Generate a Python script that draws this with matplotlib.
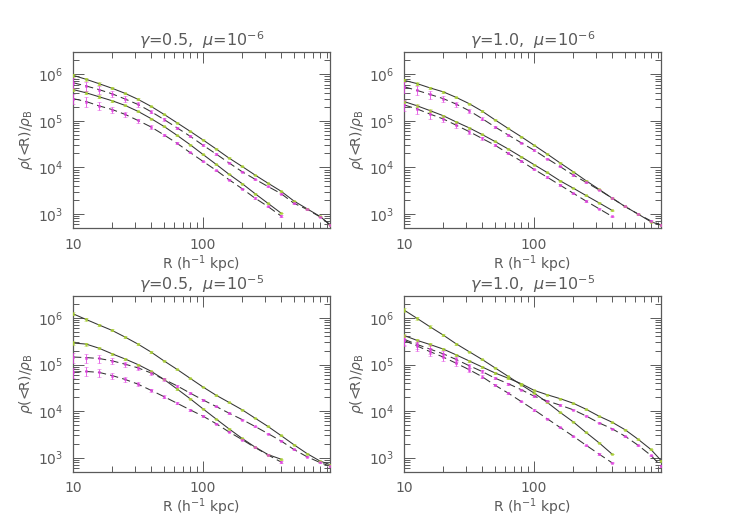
"""Mean enclosed density profiles, four parameter choices (2x2 log-log panels)."""

import matplotlib

matplotlib.use("Agg")
import matplotlib.pyplot as plt  # noqa: E402
from matplotlib.ticker import LogLocator, NullFormatter  # noqa: E402

# radial bins (h^-1 kpc); short profiles stop at ~400
R_FULL = [10, 12.6, 15.8, 20, 25.1, 31.6, 39.8, 50.1, 63.1, 79.4, 100,
          126, 158, 200, 251, 316, 398, 501, 631, 794, 950]
R_SHORT = R_FULL[:17]

# gamma=0.5, mu=1e-6
TL_OUT_SOLID = [9.5e5, 7.8e5, 6.3e5, 5.0e5, 3.9e5, 2.9e5, 2.05e5, 1.38e5, 9.1e4, 6.0e4, 3.9e4,
                2.5e4, 1.6e4, 1.05e4, 6.9e3, 4.6e3, 3.1e3, 1.9e3, 1.3e3, 8.9e2, 5.9e2]
TL_OUT_DASH = [6.6e5, 5.6e5, 4.7e5, 3.8e5, 2.95e5, 2.25e5, 1.58e5, 1.07e5, 7.1e4, 4.7e4, 3.0e4,
               1.95e4, 1.26e4, 8.1e3, 5.6e3, 3.9e3, 2.75e3, 1.7e3, 1.26e3, 8.7e2, 5.9e2]
TL_IN_SOLID = [4.7e5, 4.0e5, 3.3e5, 2.7e5, 2.15e5, 1.6e5, 1.12e5, 7.6e4, 4.9e4, 3.1e4, 1.9e4,
               1.17e4, 7.2e3, 4.5e3, 2.75e3, 1.7e3, 1.05e3]
TL_IN_DASH = [3.0e5, 2.6e5, 2.1e5, 1.75e5, 1.38e5, 1.02e5, 7.4e4, 5.0e4, 3.3e4, 2.1e4, 1.35e4,
              8.7e3, 5.5e3, 3.5e3, 2.2e3, 1.45e3, 9.1e2]

# gamma=1.0, mu=1e-6
TR_OUT_SOLID = [7.4e5, 6.3e5, 5.1e5, 4.2e5, 3.2e5, 2.35e5, 1.62e5, 1.05e5, 6.9e4, 4.6e4, 3.0e4,
                1.95e4, 1.26e4, 8.1e3, 5.2e3, 3.4e3, 2.2e3, 1.45e3, 1.0e3, 6.8e2, 5.8e2]
TR_OUT_DASH = [5.4e5, 4.5e5, 3.7e5, 3.0e5, 2.3e5, 1.66e5, 1.12e5, 7.4e4, 5.0e4, 3.4e4, 2.35e4,
               1.55e4, 1.05e4, 6.9e3, 4.8e3, 3.3e3, 2.2e3, 1.45e3, 1.0e3, 7.1e2, 5.8e2]
TR_IN_SOLID = [2.6e5, 2.1e5, 1.66e5, 1.29e5, 9.5e4, 7.1e4, 5.1e4, 3.6e4, 2.5e4, 1.7e4, 1.15e4,
               7.8e3, 5.2e3, 3.6e3, 2.5e3, 1.74e3, 1.2e3]
TR_IN_DASH = [2.2e5, 1.8e5, 1.4e5, 1.1e5, 8.1e4, 5.9e4, 4.2e4, 3.0e4, 2.0e4, 1.38e4, 9.1e3,
              6.2e3, 4.2e3, 2.8e3, 1.9e3, 1.3e3, 8.9e2]

# gamma=0.5, mu=1e-5
BL_OUT_SOLID = [1.23e6, 9.3e5, 7.1e5, 5.4e5, 3.9e5, 2.75e5, 1.86e5, 1.2e5, 7.9e4, 5.1e4, 3.3e4,
                2.2e4, 1.55e4, 1.07e4, 7.1e3, 4.7e3, 3.0e3, 1.9e3, 1.23e3, 8.5e2, 7.1e2]
BL_OUT_DASH = [1.45e5, 1.41e5, 1.35e5, 1.2e5, 1.02e5, 8.5e4, 6.6e4, 4.8e4, 3.5e4, 2.45e4, 1.74e4,
               1.26e4, 9.1e3, 6.6e3, 4.7e3, 3.3e3, 2.3e3, 1.5e3, 1.05e3, 7.9e2, 6.6e2]
BL_IN_SOLID = [2.9e5, 2.75e5, 2.25e5, 1.7e5, 1.32e5, 1.0e5, 7.2e4, 4.8e4, 3.0e4, 1.86e4, 1.12e4,
               6.8e3, 4.2e3, 2.6e3, 1.7e3, 1.17e3, 9.3e2]
BL_IN_DASH = [6.9e4, 7.1e4, 6.8e4, 5.8e4, 4.8e4, 3.8e4, 2.8e4, 2.05e4, 1.48e4, 1.07e4, 7.8e3,
              5.4e3, 3.6e3, 2.45e3, 1.66e3, 1.15e3, 8.1e2]

# gamma=1.0, mu=1e-5
BR_OUT_SOLID = [4.2e5, 3.3e5, 2.7e5, 2.15e5, 1.62e5, 1.2e5, 8.9e4, 6.6e4, 5.1e4, 3.9e4, 2.8e4,
                2.25e4, 1.86e4, 1.48e4, 1.1e4, 7.8e3, 5.8e3, 4.0e3, 2.5e3, 1.5e3, 8.7e2]
BR_OUT_DASH = [3.5e5, 2.7e5, 2.15e5, 1.7e5, 1.29e5, 9.5e4, 7.1e4, 5.1e4, 3.9e4, 2.9e4, 2.1e4,
               1.66e4, 1.35e4, 1.07e4, 7.9e3, 5.6e3, 4.2e3, 2.9e3, 1.86e3, 1.12e3, 6.6e2]
BR_IN_SOLID = [1.48e6, 9.8e5, 6.5e5, 4.3e5, 2.8e5, 1.9e5, 1.29e5, 8.5e4, 5.6e4, 3.7e4, 2.45e4,
               1.55e4, 9.5e3, 5.9e3, 3.5e3, 2.1e3, 1.2e3]
BR_IN_DASH = [3.3e5, 2.5e5, 1.9e5, 1.45e5, 1.07e5, 7.8e4, 5.5e4, 3.6e4, 2.45e4, 1.62e4, 1.07e4,
              6.9e3, 4.5e3, 2.9e3, 1.86e3, 1.2e3, 7.8e2]

# fractional error bars per bin (larger in the centre)
ERR_GREEN = [0.08, 0.07, 0.06, 0.05, 0.04, 0.04, 0.03, 0.03, 0.03, 0.02, 0.02,
             0.02, 0.02, 0.02, 0.02, 0.02, 0.02, 0.02, 0.02, 0.02, 0.02]
ERR_MAGENTA = [0.25, 0.22, 0.2, 0.16, 0.13, 0.1, 0.08, 0.06, 0.05, 0.04, 0.04,
               0.03, 0.03, 0.03, 0.03, 0.03, 0.03, 0.03, 0.03, 0.03, 0.03]

TITLES = [r"$\gamma$=0.5,  $\mu$=10$^{-6}$", r"$\gamma$=1.0,  $\mu$=10$^{-6}$",
          r"$\gamma$=0.5,  $\mu$=10$^{-5}$", r"$\gamma$=1.0,  $\mu$=10$^{-5}$"]

PANELS = [
    (TL_OUT_SOLID, TL_OUT_DASH, TL_IN_SOLID, TL_IN_DASH),
    (TR_OUT_SOLID, TR_OUT_DASH, TR_IN_SOLID, TR_IN_DASH),
    (BL_OUT_SOLID, BL_OUT_DASH, BL_IN_SOLID, BL_IN_DASH),
    (BR_OUT_SOLID, BR_OUT_DASH, BR_IN_SOLID, BR_IN_DASH),
]

GREY = "#5a5a5a"
GREEN = "#a8d030"
MAGENTA = "#e040e0"
plt.rcParams.update({"font.size": 10, "text.color": GREY, "axes.labelcolor": GREY,
                     "xtick.color": GREY, "ytick.color": GREY, "mathtext.fontset": "dejavusans"})

fig = plt.figure(figsize=(7.35, 5.25), dpi=100)
lefts = [0.0993, 0.5497]
bottoms = [0.5657, 0.1015]
W, H = 0.3497, 0.3352


def draw_points(ax, r, y, err, color):
    yerr = [v * e for v, e in zip(y, err)]
    ax.errorbar(r, y, yerr=yerr, fmt="s", ms=2.0, color=color, mec=color, mew=0.4,
                ecolor=color, elinewidth=0.7, capsize=1.3, capthick=0.7, alpha=0.8, zorder=4)


for i, (series, title) in enumerate(zip(PANELS, TITLES)):
    row, col = divmod(i, 2)
    ax = fig.add_axes([lefts[col], bottoms[row], W, H])
    out_solid, out_dash, in_solid, in_dash = series

    for r, y in ((R_FULL, out_solid), (R_SHORT, in_solid)):
        ax.plot(r, y, color="#333333", lw=0.75, zorder=3)
        draw_points(ax, r, y, ERR_GREEN, GREEN)
    for r, y in ((R_FULL, out_dash), (R_SHORT, in_dash)):
        ax.plot(r, y, color="#333333", lw=0.75, ls=(0, (8, 4)), zorder=3)
        draw_points(ax, r, y, ERR_MAGENTA, MAGENTA)

    ax.set_xscale("log")
    ax.set_yscale("log")
    ax.set_xlim(10, 950)
    ax.set_ylim(5e2, 3e6)
    ax.set_xticks([10, 100], ["10", "100"])
    ax.xaxis.set_minor_locator(LogLocator(base=10, subs=range(2, 10)))
    ax.xaxis.set_minor_formatter(NullFormatter())
    ax.yaxis.set_minor_locator(LogLocator(base=10, subs=range(2, 10)))
    ax.yaxis.set_minor_formatter(NullFormatter())
    ax.tick_params(which="both", direction="in", top=True, right=True, width=0.7, labelsize=10)
    ax.tick_params(which="major", length=8, pad=7)
    ax.tick_params(which="minor", length=4)
    for s in ax.spines.values():
        s.set_color(GREY)
        s.set_linewidth(0.9)

    ax.set_title(title, fontsize=11.5, color=GREY, pad=4)
    ax.set_xlabel(r"R (h$^{-1}$ kpc)", fontsize=10, labelpad=1)
    ax.set_ylabel(r"$\rho$(<R)/$\rho_{\rm B}$", fontsize=10)
    ax.yaxis.set_label_coords(-0.148, 0.5)

fig.savefig("out.png", dpi=100)
